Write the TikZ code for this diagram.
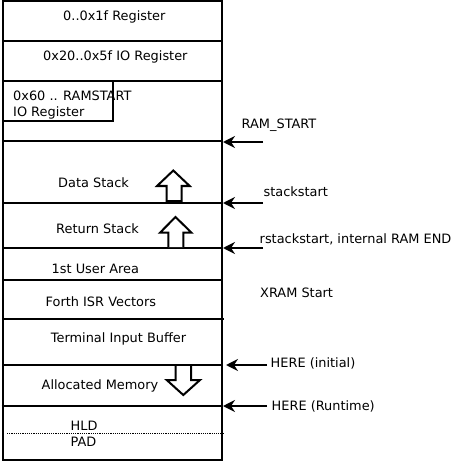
\documentclass[tikz,border=0pt]{standalone}
\usepackage{fontspec}
\setmainfont{DejaVu Sans}
\usetikzlibrary{arrows.meta}
\tikzset{
  lbl/.style={inner sep=0pt,anchor=base west,font=\fontsize{12.9}{15}\selectfont},
  wall/.style={line width=2pt},
  ptr/.style={line width=2pt,-{Stealth[length=12pt,width=12pt,inset=4pt]}},
  blockarrow/.style={line width=2pt,fill=white,line join=miter},
}
\begin{document}
\begin{tikzpicture}[x=1pt,y=-1pt]
\useasboundingbox (0,0) rectangle (450,462);
% outer column
\draw[wall] (3,1) rectangle (222,460);
% separators
\draw[wall] (3,41) -- (222,41);
\draw[wall] (3,81) -- (222,81);
\draw[wall] (113,81) -- (113,121) -- (3,121);
\draw[wall] (3,141) -- (222,141);
\draw[wall] (3,203) -- (222,203);
\draw[wall] (3,248) -- (222,248);
\draw[wall] (3,280) -- (222,280);
\draw[wall] (3,319) -- (224,319);
\draw[wall] (3,365) -- (222,365);
\draw[wall] (1.5,406) -- (222,406);
\draw[line width=1.6pt,dash pattern=on 1.2pt off 1pt] (7,433.5) -- (224,433.5);
% region labels
\node[lbl] (r0) at (63,21) {0..0x1f Register};
\node[lbl] (r1) at (43,61) {0x20..0x5f IO Register};
\node[lbl] (r2) at (13,100.7) {0x60 .. RAMSTART};
\node[lbl] (r2b) at (13,117) {IO Register};
\node[lbl] (ds) at (58,188) {Data Stack};
\node[lbl] (rs) at (56,233) {Return Stack};
\node[lbl] (ua) at (51.5,273.3) {1st User Area};
\node[lbl] (isr) at (45.5,306) {Forth ISR Vectors};
\node[lbl] (tib) at (50.7,342.3) {Terminal Input Buffer};
\node[lbl] (am) at (41.5,389) {Allocated Memory};
\node[lbl] (hld) at (70.5,430.7) {HLD};
\node[lbl] (pad) at (70.5,446.7) {PAD};
% block arrows
\draw[blockarrow] (166.7,201) -- (166.7,186) -- (157,186) -- (173.3,170.5) -- (189.7,186) -- (181.5,186) -- (181.5,201) -- cycle;
\draw[blockarrow] (168.3,247) -- (168.3,232.7) -- (160,232.7) -- (175.5,217) -- (191.5,232.7) -- (183.3,232.7) -- (183.3,247);
\draw[blockarrow] (175.7,366) -- (175.7,380) -- (166.7,380) -- (183.3,395) -- (200,380) -- (191,380) -- (191,366);
% pointer labels
\node[lbl] (ramstart) at (241.5,128.3) {RAM\_START};
\node[lbl] (ss) at (263.5,196.7) {stackstart};
\node[lbl] (rss) at (259.5,243.3) {rstackstart, internal RAM END};
\node[lbl] (xram) at (260,297.7) {XRAM Start};
\node[lbl] (herei) at (270.5,367.3) {HERE (initial)};
\node[lbl] (herer) at (271.5,410) {HERE (Runtime)};
% pointer coordinates
\coordinate (p1t) at (263,142); \coordinate (p1h) at (223,142);
\coordinate (p2t) at (263,203); \coordinate (p2h) at (223,203);
\coordinate (p3t) at (263,248); \coordinate (p3h) at (223,248);
\coordinate (p4t) at (267,365); \coordinate (p4h) at (226,365);
\coordinate (p5t) at (267,406); \coordinate (p5h) at (223,406);
\draw[ptr] (p1t) -- (p1h);
\draw[ptr] (p2t) -- (p2h);
\draw[ptr] (p3t) -- (p3h);
\draw[ptr] (p4t) -- (p4h);
\draw[ptr] (p5t) -- (p5h);
\end{tikzpicture}
\end{document}
